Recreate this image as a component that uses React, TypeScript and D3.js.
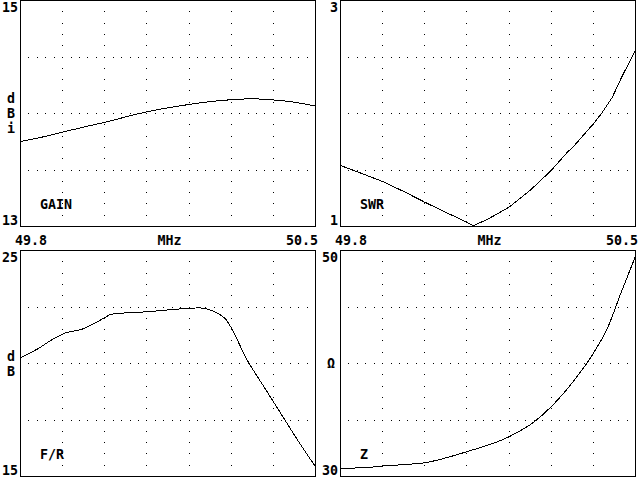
import React from "react";
import * as d3 from "d3";

const FREQ_DOMAIN = [49.8, 50.5];
const X_TICK_LABELS = ["49.8", "MHz", "50.5"];

const gainFreq = [49.8, 49.85, 49.9, 49.95, 50.0, 50.05, 50.1, 50.15, 50.2, 50.25, 50.3, 50.35, 50.4, 50.45, 50.5];
const gainValues = [13.752, 13.79, 13.835, 13.88, 13.922, 13.97, 14.015, 14.05, 14.08, 14.105, 14.122, 14.13, 14.12, 14.1, 14.065];

const swrFreq = [49.8, 49.85, 49.9, 49.95, 50.0, 50.05, 50.1, 50.115, 50.15, 50.2, 50.25, 50.3, 50.34, 50.35, 50.4, 50.42, 50.445, 50.467, 50.5];
const swrValues = [1.54, 1.47, 1.398, 1.31, 1.215, 1.125, 1.038, 1.006, 1.066, 1.171, 1.32, 1.496, 1.664, 1.695, 1.909, 2.003, 2.144, 2.321, 2.56];

const frFreq = [49.8, 49.84, 49.88, 49.905, 49.945, 50.0, 50.015, 50.1, 50.2, 50.225, 50.26, 50.285, 50.34, 50.38, 50.42, 50.46, 50.5];
const frValues = [20.26, 20.64, 21.11, 21.34, 21.51, 22.03, 22.18, 22.29, 22.44, 22.46, 22.29, 22.0, 20.08, 18.9, 17.72, 16.54, 15.43];

const zFreq = [49.8, 49.86, 49.9, 49.95, 50.0, 50.1, 50.2, 50.26, 50.3, 50.355, 50.4, 50.435, 50.465, 50.5];
const zValues = [30.73, 30.78, 30.93, 31.05, 31.22, 32.2, 33.52, 34.85, 36.18, 38.54, 40.9, 43.26, 46.2, 49.5];

const gainDomain = [13, 15];
const swrDomain = [1, 3];
const frDomain = [15, 25];
const zDomain = [30, 50];

const panels = [
  { title: "GAIN", unit: ["d", "B", "i"], domain: gainDomain, freq: gainFreq, values: gainValues, left: 20, top: 0, smooth: true },
  { title: "SWR", unit: [], domain: swrDomain, freq: swrFreq, values: swrValues, left: 340, top: 0, smooth: false },
  { title: "F/R", unit: ["d", "B"], domain: frDomain, freq: frFreq, values: frValues, left: 20, top: 250, smooth: true },
  { title: "Z", unit: ["Ω"], domain: zDomain, freq: zFreq, values: zValues, left: 340, top: 250, smooth: true },
];

const W = 295;
const H = 226;
const FONT = "'DejaVu Sans Mono', monospace";

function Panel({ p, showX }: { p: any; showX: boolean }) {
  const x = d3.scaleLinear().domain(FREQ_DOMAIN).range([p.left + 0.5, p.left + W + 0.5]);
  const y = d3.scaleLinear().domain(p.domain).range([p.top + H + 0.5, p.top + 0.5]);
  const pts = p.freq.map((f: number, i: number) => [x(f), y(p.values[i])] as [number, number]);
  const line = d3.line().curve(p.smooth ? d3.curveMonotoneX : d3.curveLinear)(pts) || "";

  const dots: JSX.Element[] = [];
  for (let i = 1; i < 7; i++) {
    const gx = Math.round(p.left + (i * W) / 7);
    for (let k = 1; k < 20; k++) {
      const gy = Math.round(p.top + (k * H) / 20);
      dots.push(<rect key={`v${i}-${k}`} x={gx} y={gy} width={1} height={1} fill="#000" />);
    }
  }
  for (let j = 1; j < 4; j++) {
    const gy = Math.round(p.top + (j * H) / 4);
    for (let k = 1; k < 35; k++) {
      const gx = Math.round(p.left + (k * W) / 35);
      dots.push(<rect key={`h${j}-${k}`} x={gx} y={gy} width={1} height={1} fill="#000" />);
    }
  }

  const mid = p.top + H / 2;
  const n = p.unit.length;
  const step = 15;
  const topLabel = String(p.domain[1]);
  const botLabel = String(p.domain[0]);

  return (
    <g>
      {dots}
      <rect x={p.left + 0.5} y={p.top + 0.5} width={W} height={H} fill="none" stroke="#000" strokeWidth={1} shapeRendering="crispEdges" />
      <path d={line} fill="none" stroke="#000" strokeWidth={1} shapeRendering="crispEdges" />
      <text x={p.left - 2} y={p.top + 12} textAnchor="end">{topLabel}</text>
      <text x={p.left - 2} y={p.top + H - 1} textAnchor="end">{botLabel}</text>
      {p.unit.map((u: string, i: number) => (
        <text key={u + i} x={p.left - 9} y={mid - ((n - 1) * step) / 2 + i * step + 5} textAnchor="middle">{u}</text>
      ))}
      <text x={p.left + 20} y={p.top + H - 17}>{p.title}</text>
      {showX && (
        <g>
          <text x={p.left - 5} y={p.top + H + 19}>{X_TICK_LABELS[0]}</text>
          <text x={p.left + W / 2 + 2} y={p.top + H + 19} textAnchor="middle">{X_TICK_LABELS[1]}</text>
          <text x={p.left + W + 3} y={p.top + H + 19} textAnchor="end">{X_TICK_LABELS[2]}</text>
        </g>
      )}
    </g>
  );
}

export default function App() {
  return (
    <svg
      width={640}
      height={480}
      viewBox="0 0 640 480"
      style={{ position: "absolute", left: 0, top: 0, background: "#fff" }}
      fontFamily={FONT}
      fontSize={13.3}
      fontWeight="bold"
      fill="#000"
    >
      <rect x={0} y={0} width={640} height={480} fill="#fff" />
      {panels.map((p, i) => (
        <Panel key={i} p={p} showX={i < 2} />
      ))}
    </svg>
  );
}
